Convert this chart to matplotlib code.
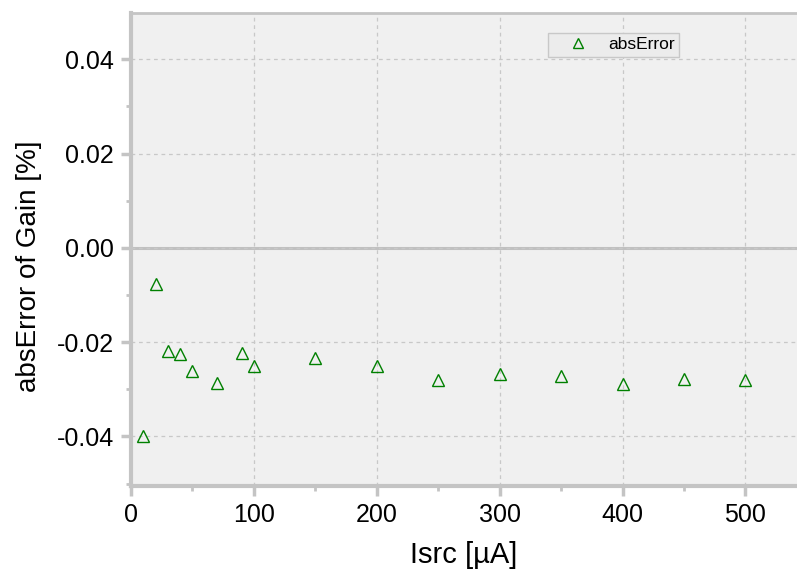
import matplotlib
matplotlib.use("Agg")
import matplotlib.pyplot as plt
from matplotlib.ticker import MultipleLocator, FuncFormatter

plt.rcParams['font.family'] = ['Liberation Sans', 'DejaVu Sans']

isrc = [10, 20, 30, 40, 50, 70, 90, 100, 150, 200, 250, 300, 350, 400, 450, 500]
abs_error = [-0.0400, -0.0076, -0.0218, -0.0225, -0.0261, -0.0286, -0.0223, -0.0250,
             -0.0233, -0.0250, -0.0280, -0.0267, -0.0271, -0.0288, -0.0278, -0.0280]

fig = plt.figure(figsize=(7.97, 5.75), dpi=100)
ax = fig.add_axes([131 / 797, 1 - 486 / 575, 1 - 131 / 797, (486 - 13) / 575])
ax.set_facecolor('#f0f0f0')

ax.set_xlim(0, 542)
ax.set_ylim(-0.0505, 0.0498)

ax.xaxis.set_major_locator(MultipleLocator(100))
ax.xaxis.set_minor_locator(MultipleLocator(50))
ax.yaxis.set_major_locator(MultipleLocator(0.02))
ax.yaxis.set_minor_locator(MultipleLocator(0.01))
ax.yaxis.set_major_formatter(FuncFormatter(lambda v, p: f"{v:.2f}" if abs(v) > 1e-9 else "0.00"))

ax.grid(True, which='major', color='#c8c8c8', linestyle=(0, (3, 3)), linewidth=0.9)
ax.axhline(0, color='#c0c0c0', linewidth=2.2, zorder=1.5)

for side in ('left', 'bottom'):
    ax.spines[side].set_color('#c4c4c4')
    ax.spines[side].set_linewidth(3)
ax.spines['top'].set_color('#c4c4c4')
ax.spines['top'].set_linewidth(2)
ax.spines['right'].set_visible(False)

ax.tick_params(which='major', direction='out', length=7, width=2.5, color='#c4c4c4',
               labelsize=18, labelcolor='black', pad=5.5)
ax.tick_params(which='minor', direction='out', length=3.5, width=2, color='#c4c4c4')
ax.tick_params(axis='x', which='both', top=False)
ax.tick_params(axis='y', which='both', right=False)

ax.plot(isrc, abs_error, linestyle='none', marker='^', markersize=9,
        markerfacecolor='none', markeredgecolor='#008000', markeredgewidth=1.0,
        label='absError', zorder=3)

ax.set_xlabel('Isrc [\u00b5A]', fontsize=21, labelpad=10)
ax.set_ylabel('absError of Gain [%]', fontsize=20)
ax.yaxis.set_label_coords(-0.133, 0.465)

leg = ax.legend(loc='upper left', bbox_to_anchor=((548 - 131) / 666, 1 - (33 - 13) / 473),
                fontsize=12.5, frameon=True, fancybox=False, borderpad=0.25,
                handletextpad=0.2, handlelength=3.0, markerscale=0.8, borderaxespad=0)
leg.get_frame().set_facecolor('#ececec')
leg.get_frame().set_edgecolor('#c8c8c8')
leg.get_frame().set_linewidth(1)
leg.get_frame().set_alpha(1)

fig.savefig('out.png', dpi=100, facecolor='white')
